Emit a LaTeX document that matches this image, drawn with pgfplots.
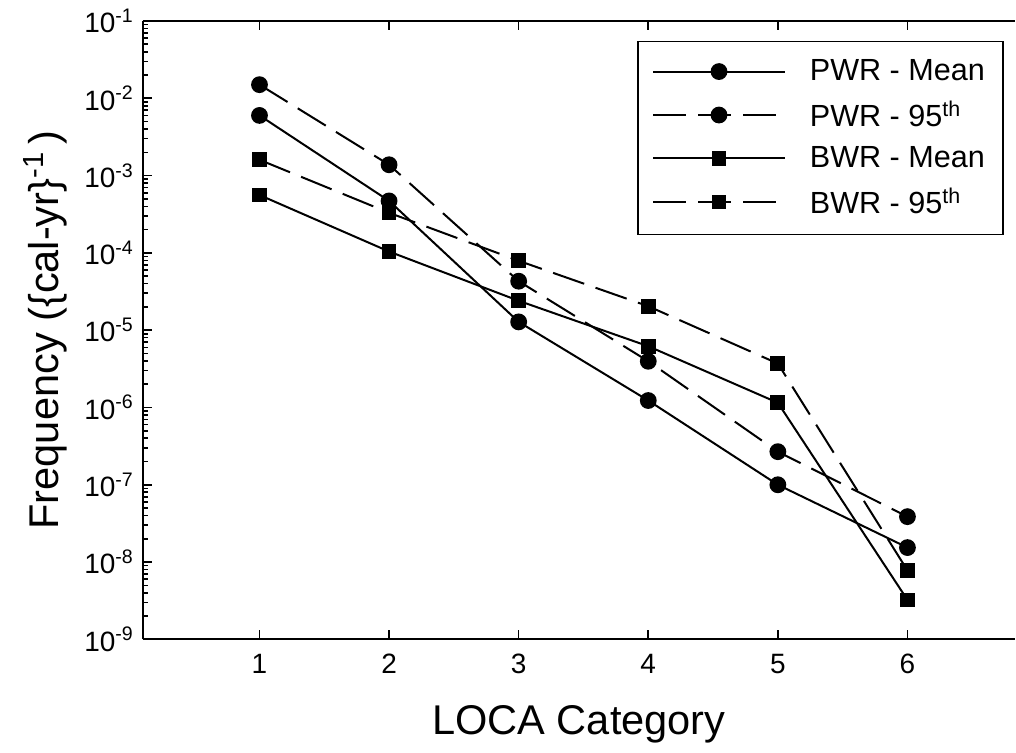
\documentclass[border=0pt]{standalone}
\usepackage{fontspec}
\setmainfont{Liberation Sans}
\usepackage{pgfplots}
\pgfplotsset{compat=1.18}
\begin{document}
\begin{tikzpicture}
\begin{axis}[
  scale only axis,
  width=436.5pt, height=309.5pt,
  ymode=log,
  xmin=0.1, xmax=6.83,
  ymin=1e-9, ymax=1e-1,
  axis y line*=left,
  axis line style={line width=1pt},
  xtick={1,2,3,4,5,6},
  xticklabels={1,2,3,4,5,6},
  ytick={1e-9,1e-8,1e-7,1e-6,1e-5,1e-4,1e-3,1e-2,1e-1},
  yticklabels={10\textsuperscript{-9},10\textsuperscript{-8},10\textsuperscript{-7},10\textsuperscript{-6},10\textsuperscript{-5},10\textsuperscript{-4},10\textsuperscript{-3},10\textsuperscript{-2},10\textsuperscript{-1}},
  minor ytick={2e-9,3e-9,4e-9,5e-9,6e-9,7e-9,8e-9,9e-9,
    2e-8,3e-8,4e-8,5e-8,6e-8,7e-8,8e-8,9e-8,
    2e-7,3e-7,4e-7,5e-7,6e-7,7e-7,8e-7,9e-7,
    2e-6,3e-6,4e-6,5e-6,6e-6,7e-6,8e-6,9e-6,
    2e-5,3e-5,4e-5,5e-5,6e-5,7e-5,8e-5,9e-5,
    2e-4,3e-4,4e-4,5e-4,6e-4,7e-4,8e-4,9e-4,
    2e-3,3e-3,4e-3,5e-3,6e-3,7e-3,8e-3,9e-3,
    2e-2,3e-2,4e-2,5e-2,6e-2,7e-2,8e-2,9e-2},
  tick style={black, line width=0.8pt},
  major tick length=4.5pt, minor tick length=2.5pt,
  tick label style={font=\fontsize{14}{17}\selectfont},
  xticklabel style={yshift=-4pt},
  yticklabel style={xshift=-1pt},
  xlabel={LOCA Category},
  ylabel={Frequency (\{cal-yr\}\textsuperscript{-1}\,)},
  label style={font=\fontsize{20.8}{25}\selectfont},
  xlabel style={at={(axis description cs:0.5,0)}, anchor=center, yshift=-42.5pt},
  ylabel style={at={(axis description cs:-0.1123,0.5)}, anchor=center},
  legend style={at={(rel axis cs:0.987,0.968)}, anchor=north east, draw=black, line width=0.8pt,
    font=\fontsize{15.3}{18}\selectfont, cells={anchor=west}, row sep=4.5pt, column sep=10pt,
    inner xsep=7pt, inner ysep=7pt},
  legend image code/.code={\draw[mark repeat=2,mark phase=2,#1] plot coordinates {(0pt,0pt)(33pt,0pt)(66pt,0pt)};},
]
\addplot[black, line width=1pt, mark=*, mark size=3.7pt]
  coordinates {(1,6e-3)(2,4.7e-4)(3,1.28e-5)(4,1.23e-6)(5,1.0e-7)(6,1.54e-8)};
\addlegendentry{PWR - Mean}
\addplot[black, line width=1pt, dash pattern=on 16.5pt off 6pt, mark=*, mark size=3.7pt, mark options={solid}]
  coordinates {(1,1.5e-2)(2,1.38e-3)(3,4.3e-5)(4,3.96e-6)(5,2.68e-7)(6,3.87e-8)};
\addlegendentry{PWR - 95\textsuperscript{th}}
\addplot[black, line width=1pt, mark=square*, mark size=3.2pt]
  coordinates {(1,5.6e-4)(2,1.04e-4)(3,2.4e-5)(4,6.2e-6)(5,1.15e-6)(6,3.24e-9)};
\addlegendentry{BWR - Mean}
\addplot[black, line width=1pt, dash pattern=on 16.5pt off 6pt, mark=square*, mark size=3.2pt, mark options={solid}]
  coordinates {(1,1.6e-3)(2,3.3e-4)(3,7.9e-5)(4,2.04e-5)(5,3.7e-6)(6,7.8e-9)};
\addlegendentry{BWR - 95\textsuperscript{th}}
\end{axis}
\path ([xshift=-71.5pt,yshift=-56.5pt]current axis.south west) rectangle ([yshift=10.5pt]current axis.north east);
\end{tikzpicture}
\end{document}
